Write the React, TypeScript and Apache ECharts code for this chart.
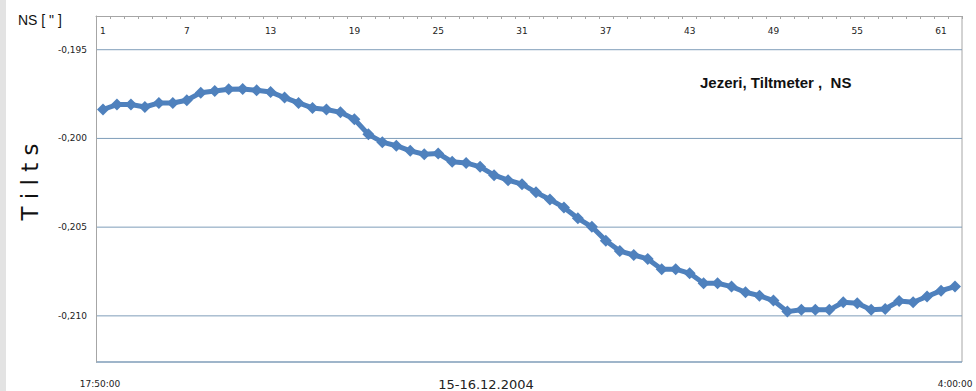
import React, { useEffect, useRef } from "react";
import * as echarts from "echarts";

const categories: string[] = Array.from({ length: 62 }, (_, i) => String(i + 1));

const tiltNS: number[] = [
  -0.19837, -0.19809, -0.19809, -0.19823, -0.198, -0.198, -0.19785, -0.19742, -0.19733, -0.19723,
  -0.19722, -0.19729, -0.19738, -0.1977, -0.198, -0.19828, -0.19837, -0.19853, -0.19892, -0.19977,
  -0.20021, -0.20041, -0.2007, -0.20089, -0.20085, -0.20132, -0.20138, -0.2016, -0.20207, -0.20235,
  -0.20258, -0.20304, -0.20344, -0.20389, -0.2045, -0.20498, -0.20576, -0.20635, -0.20657, -0.20679,
  -0.20737, -0.20737, -0.2076, -0.20816, -0.20816, -0.20835, -0.20867, -0.20886, -0.20914, -0.20976,
  -0.20966, -0.20966, -0.20966, -0.20923, -0.20929, -0.20966, -0.20961, -0.20916, -0.20923, -0.20891,
  -0.20858, -0.20835,
];

const gridValues: number[] = [-0.195, -0.2, -0.205, -0.21];
const gridLabels: string[] = ["-0,195", "-0,200", "-0,205", "-0,210"];
const yMin = -0.2126;
const yMax = -0.1931;

const timeStart = "17:50:00";
const timeEnd = "4:00:00";
const dateLabel = "15-16.12.2004";
const chartTitle = "Jezeri, Tiltmeter ,  NS";

export default function App() {
  const ref = useRef<HTMLDivElement>(null);
  useEffect(() => {
    if (!ref.current) return;
    const chart = echarts.init(ref.current, undefined, { renderer: "svg" });
    const baseGraphics: any[] = [
      { type: "rect", left: 0, top: 0, shape: { width: 6, height: 391 }, style: { fill: "#e3e3e3" } },
      { type: "line", shape: { x1: 962, y1: 16, x2: 962, y2: 362 }, style: { stroke: "#a6a6a6", lineWidth: 1 } },
      { type: "line", shape: { x1: 96, y1: 362, x2: 962, y2: 362 }, style: { stroke: "#7f9db9", lineWidth: 1.5 } },
      {
        type: "text",
        x: 18,
        y: 20,
        style: { text: 'NS [ " ]', fontSize: 14, fill: "#111", fontFamily: "Liberation Sans", verticalAlign: "middle" },
      },
      {
        type: "text",
        x: 30,
        y: 182,
        rotation: Math.PI / 2,
        style: {
          text: "T i l t s",
          fontSize: 23,
          fill: "#111",
          fontFamily: "DejaVu Sans",
          align: "center",
          verticalAlign: "middle",
        },
      },
      {
        type: "text",
        x: 700,
        y: 82,
        style: { text: chartTitle, fontSize: 15, fontWeight: "bold", fill: "#111", fontFamily: "Liberation Sans", verticalAlign: "middle" },
      },
      {
        type: "text",
        x: 100,
        y: 384,
        style: { text: timeStart, fontSize: 9, fill: "#222", fontFamily: "DejaVu Sans", align: "center", verticalAlign: "middle" },
      },
      {
        type: "text",
        x: 486,
        y: 384,
        style: { text: dateLabel, fontSize: 13, fill: "#222", fontFamily: "DejaVu Sans", align: "center", verticalAlign: "middle" },
      },
      {
        type: "text",
        x: 955,
        y: 384,
        style: { text: timeEnd, fontSize: 9, fill: "#222", fontFamily: "DejaVu Sans", align: "center", verticalAlign: "middle" },
      },
    ];
    chart.setOption({
      animation: false,
      backgroundColor: "#ffffff",
      grid: { left: 96, top: 16, width: 866, height: 346, containLabel: false },
      xAxis: {
        type: "category",
        position: "top",
        data: categories,
        boundaryGap: true,
        axisLine: { show: true, lineStyle: { color: "#a6a6a6", width: 1 } },
        axisTick: { show: true, inside: true, length: 3, interval: 0, lineStyle: { color: "#a6a6a6" } },
        axisLabel: {
          show: true,
          inside: true,
          interval: 5,
          margin: 10,
          fontSize: 9,
          color: "#222",
          fontFamily: "DejaVu Sans",
        },
        splitLine: { show: false },
      },
      yAxis: {
        type: "value",
        min: yMin,
        max: yMax,
        axisLine: { show: true, lineStyle: { color: "#a6a6a6" } },
        axisTick: { show: false },
        axisLabel: { show: false },
        splitLine: { show: false },
      },
      series: [
        {
          type: "line",
          data: tiltNS,
          symbol: "diamond",
          symbolSize: 12,
          showSymbol: true,
          showAllSymbol: true,
          lineStyle: { color: "#4f81bd", width: 5 },
          itemStyle: { color: "#4f81bd" },
          z: 5,
        },
      ],
      graphic: baseGraphics,
    });
    const gridGraphics: any[] = [];
    gridValues.forEach((v, i) => {
      const y = chart.convertToPixel({ yAxisIndex: 0 }, v) as number;
      gridGraphics.push({
        type: "line",
        z: 0,
        shape: { x1: 96, y1: y, x2: 962, y2: y },
        style: { stroke: "#7f9db9", lineWidth: 1 },
      });
      gridGraphics.push({
        type: "text",
        x: 87,
        y: y,
        style: {
          text: gridLabels[i],
          fontSize: 9,
          fill: "#222",
          fontFamily: "DejaVu Sans",
          align: "right",
          verticalAlign: "middle",
        },
      });
    });
    chart.setOption({ graphic: [...baseGraphics, ...gridGraphics] }, { replaceMerge: ["graphic"] });
    return () => chart.dispose();
  }, []);
  return <div ref={ref} style={{ position: "absolute", left: 0, top: 0, width: 976, height: 391 }} />;
}
